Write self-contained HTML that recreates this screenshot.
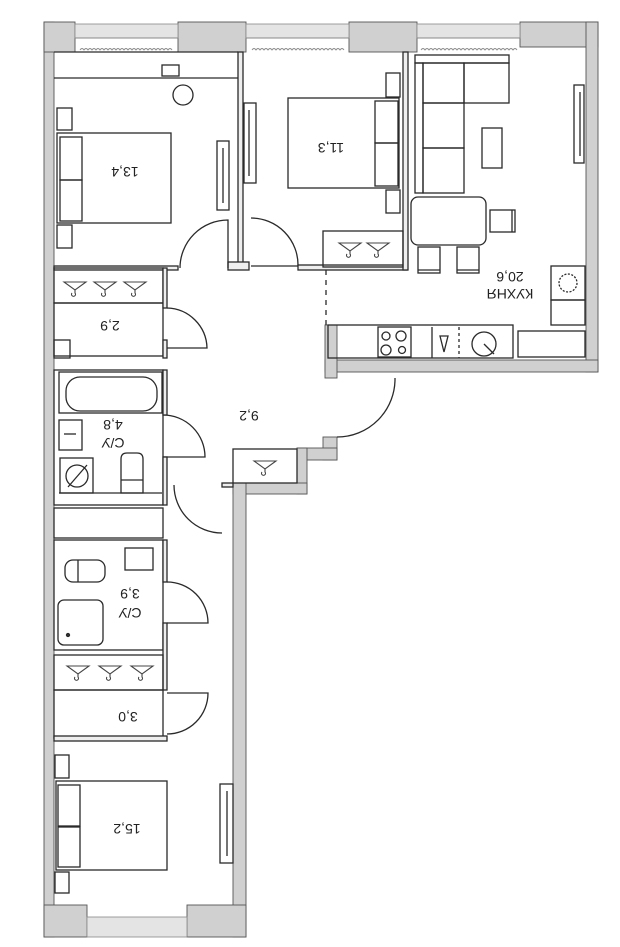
<!DOCTYPE html>
<html><head><meta charset="utf-8"><style>
html,body{margin:0;padding:0;background:#fff;}
svg{display:block}
text{font-family:"Liberation Sans",sans-serif;font-size:14px;fill:#222}
</style></head><body>
<svg width="620" height="947" viewBox="0 0 620 947" xmlns="http://www.w3.org/2000/svg">
<defs>
<g id="hg"><path d="M-11,-5 L11,-5 L0,3 Z" fill="none" stroke="#444" stroke-width="1.1"/><path d="M0,3 v3 a2,2 0 1,1 -3,0" fill="none" stroke="#444" stroke-width="1.1"/></g>
</defs>
<g stroke="#555" stroke-width="0.9" fill="#d0d0d0">
<rect x="44" y="22" width="10" height="915"/>
<rect x="44" y="22" width="31" height="30"/>
<rect x="178" y="22" width="68" height="30"/>
<rect x="349" y="22" width="68" height="30"/>
<rect x="520" y="22" width="78" height="25"/>
<rect x="586" y="22" width="12" height="350"/>
<rect x="325" y="360" width="273" height="12"/>
<rect x="325" y="325" width="12" height="53"/>
<rect x="323" y="437" width="14" height="23"/>
<rect x="297" y="448" width="40" height="12"/>
<rect x="297" y="448" width="10" height="46"/>
<rect x="233" y="483" width="74" height="11"/>
<rect x="233" y="483" width="13" height="454"/>
<rect x="44" y="905" width="43" height="32"/>
<rect x="187" y="905" width="59" height="32"/>
</g>
<g fill="#e4e4e4" stroke="#888" stroke-width="0.8">
<rect x="75" y="24" width="103" height="14"/>
<rect x="246" y="24" width="103" height="14"/>
<rect x="417" y="24" width="103" height="14"/>
<rect x="87" y="917" width="100" height="20"/>
</g>
<g stroke="#888" stroke-width="0.9" fill="none">
<line x1="75" y1="38" x2="178" y2="38"/><line x1="246" y1="38" x2="349" y2="38"/><line x1="417" y1="38" x2="520" y2="38"/>
<path d="M80,50 q2,-3 4,0 q2,-3 4,0 q2,-3 4,0 q2,-3 4,0 q2,-3 4,0 q2,-3 4,0 q2,-3 4,0 q2,-3 4,0 q2,-3 4,0 q2,-3 4,0 q2,-3 4,0 q2,-3 4,0 q2,-3 4,0 q2,-3 4,0 q2,-3 4,0 q2,-3 4,0 q2,-3 4,0 q2,-3 4,0 q2,-3 4,0 q2,-3 4,0 q2,-3 4,0 q2,-3 4,0 q2,-3 4,0"/>
<path d="M252,50 q2,-3 4,0 q2,-3 4,0 q2,-3 4,0 q2,-3 4,0 q2,-3 4,0 q2,-3 4,0 q2,-3 4,0 q2,-3 4,0 q2,-3 4,0 q2,-3 4,0 q2,-3 4,0 q2,-3 4,0 q2,-3 4,0 q2,-3 4,0 q2,-3 4,0 q2,-3 4,0 q2,-3 4,0 q2,-3 4,0 q2,-3 4,0 q2,-3 4,0 q2,-3 4,0 q2,-3 4,0 q2,-3 4,0"/>
<path d="M421,50 q2,-3 4,0 q2,-3 4,0 q2,-3 4,0 q2,-3 4,0 q2,-3 4,0 q2,-3 4,0 q2,-3 4,0 q2,-3 4,0 q2,-3 4,0 q2,-3 4,0 q2,-3 4,0 q2,-3 4,0 q2,-3 4,0 q2,-3 4,0 q2,-3 4,0 q2,-3 4,0 q2,-3 4,0 q2,-3 4,0 q2,-3 4,0 q2,-3 4,0 q2,-3 4,0 q2,-3 4,0 q2,-3 4,0 q2,-3 4,0"/>
</g>
<g stroke="#2a2a2a" stroke-width="1.3" fill="none">
<line x1="54" y1="52" x2="238" y2="52"/>
<line x1="54" y1="78" x2="238" y2="78"/>
<rect x="162" y="65" width="17" height="11"/>
<circle cx="183" cy="95" r="10"/>
<rect x="57" y="108" width="15" height="22"/><rect x="57" y="225" width="15" height="23"/>
<rect x="57" y="133" width="114" height="90"/>
<rect x="60" y="137" width="22" height="43"/><rect x="60" y="180" width="22" height="41"/>
<rect x="217" y="141" width="12" height="69"/><line x1="223" y1="148" x2="223" y2="203"/>
<rect x="238" y="52" width="5" height="216" fill="#eee"/>
<rect x="54" y="266" width="124" height="4" fill="#eee"/>
<rect x="228" y="262" width="21" height="8" fill="#eee"/>
<path d="M180,268 A48,48 0 0 1 228,220 L228,268"/>
<rect x="244" y="103" width="12" height="80"/><line x1="249" y1="110" x2="249" y2="176"/>
<rect x="288" y="98" width="111" height="90"/>
<rect x="375" y="101" width="23" height="42"/><rect x="375" y="143" width="23" height="43"/>
<rect x="386" y="73" width="14" height="24"/><rect x="386" y="190" width="14" height="23"/>
<path d="M251,218 A47,47 0 0 1 298,266 L251,266"/>
<rect x="298" y="265" width="109" height="5" fill="#eee"/>
<rect x="403" y="52" width="5" height="218" fill="#eee"/>
<rect x="323" y="231" width="80" height="36"/>
<rect x="415" y="55" width="94" height="8"/>
<rect x="415" y="63" width="8" height="130"/>
<rect x="423" y="63" width="41" height="40"/><rect x="423" y="103" width="41" height="45"/><rect x="423" y="148" width="41" height="45"/>
<rect x="464" y="63" width="45" height="40"/>
<rect x="482" y="128" width="20" height="40"/>
<rect x="574" y="85" width="10" height="78"/><line x1="580" y1="92" x2="580" y2="156"/>
<rect x="411" y="197" width="75" height="48" rx="7"/>
<rect x="490" y="210" width="25" height="22"/><line x1="512" y1="210" x2="512" y2="232"/>
<rect x="418" y="247" width="22" height="26"/><line x1="418" y1="270" x2="440" y2="270"/>
<rect x="457" y="247" width="22" height="26"/><line x1="457" y1="270" x2="479" y2="270"/>
<rect x="551" y="266" width="34" height="34"/><rect x="551" y="300" width="34" height="25"/>
<circle cx="568" cy="283" r="9" stroke-dasharray="2 1.5"/>
<line x1="326" y1="270" x2="326" y2="325" stroke-dasharray="5 5"/>
<rect x="328" y="325" width="185" height="33"/>
<rect x="378" y="327" width="33" height="30"/>
<circle cx="386" cy="336" r="4"/><circle cx="401" cy="336" r="5"/><circle cx="386" cy="350" r="5"/><circle cx="402" cy="350" r="3.5"/>
<line x1="432" y1="327" x2="432" y2="358"/><line x1="459" y1="327" x2="459" y2="358" stroke-dasharray="3 3"/>
<path d="M440,336 L448,336 L444,352 Z"/>
<circle cx="484" cy="344" r="12"/><line x1="484" y1="344" x2="494" y2="354"/>
<rect x="518" y="331" width="67" height="26"/>
<path d="M395,378 A58,58 0 0 1 337,437"/>
<path d="M163,415 A42,42 0 0 1 205,457 L163,457"/>
<path d="M222,533 A48,48 0 0 1 174,485"/>
<rect x="222" y="483" width="11" height="4" fill="#eee"/>
<rect x="233" y="449" width="64" height="34"/>
<rect x="54" y="268" width="109" height="35"/>
<rect x="54" y="303" width="109" height="53"/>
<rect x="163" y="268" width="4" height="40" fill="#eee"/>
<rect x="163" y="340" width="4" height="18" fill="#eee"/>
<path d="M167,308 A41,41 0 0 1 207,348 L167,348"/>
<rect x="54" y="340" width="16" height="18"/>
<rect x="54" y="370" width="109" height="135"/>
<rect x="59" y="372" width="103" height="41"/>
<rect x="66" y="377" width="91" height="34" rx="14"/>
<rect x="59" y="420" width="23" height="30"/><line x1="64" y1="434" x2="76" y2="434"/>
<rect x="60" y="458" width="33" height="35"/><circle cx="77" cy="476" r="11"/><line x1="68" y1="487" x2="87" y2="465"/>
<path d="M121,493 L121,459 Q121,453 127,453 L137,453 Q143,453 143,459 L143,493 Z"/><line x1="121" y1="480" x2="143" y2="480"/>
<line x1="59" y1="493" x2="162" y2="493"/>
<rect x="163" y="370" width="4" height="45" fill="#eee"/>
<rect x="163" y="457" width="4" height="48" fill="#eee"/>
<rect x="54" y="508" width="109" height="30"/>
<rect x="54" y="540" width="109" height="110"/>
<rect x="65" y="560" width="40" height="22" rx="8"/><line x1="78" y1="560" x2="78" y2="582"/>
<rect x="125" y="548" width="28" height="22"/>
<rect x="58" y="600" width="45" height="45" rx="6"/><circle cx="68" cy="635" r="1.5" fill="#333"/>
<rect x="163" y="540" width="4" height="42" fill="#eee"/>
<rect x="163" y="623" width="4" height="67" fill="#eee"/>
<path d="M167,582 A41,41 0 0 1 208,623 L167,623"/>
<rect x="54" y="655" width="109" height="35"/>
<rect x="54" y="690" width="109" height="48"/>
<rect x="54" y="736" width="113" height="5" fill="#eee"/>
<path d="M167,693 L208,693 A41,41 0 0 1 167,734"/>
<rect x="55" y="755" width="14" height="23"/><rect x="55" y="872" width="14" height="21"/>
<rect x="56" y="781" width="111" height="89"/>
<rect x="58" y="785" width="22" height="41"/><rect x="58" y="827" width="22" height="40"/>
<rect x="220" y="784" width="13" height="79"/><line x1="227" y1="791" x2="227" y2="856"/>
</g>
<g>
<use href="#hg" x="75" y="287"/>
<use href="#hg" x="105" y="287"/>
<use href="#hg" x="135" y="287"/>
<use href="#hg" x="350" y="248"/>
<use href="#hg" x="378" y="248"/>
<use href="#hg" x="265" y="466"/>
<use href="#hg" x="78" y="671"/>
<use href="#hg" x="110" y="671"/>
<use href="#hg" x="142" y="671"/>
</g>
<g>
<text transform="rotate(180 125 172)" x="125" y="177" text-anchor="middle">13,4</text>
<text transform="rotate(180 331 148)" x="331" y="153" text-anchor="middle">11,3</text>
<text transform="rotate(180 510 277)" x="510" y="282" text-anchor="middle">20,6</text>
<text transform="rotate(180 510 294)" x="510" y="299" text-anchor="middle">КУХНЯ</text>
<text transform="rotate(180 110 326)" x="110" y="331" text-anchor="middle">2,9</text>
<text transform="rotate(180 249 416)" x="249" y="421" text-anchor="middle">9,2</text>
<text transform="rotate(180 113 425)" x="113" y="430" text-anchor="middle">4,8</text>
<text transform="rotate(180 113 443)" x="113" y="448" text-anchor="middle">С/У</text>
<text transform="rotate(180 130 594)" x="130" y="599" text-anchor="middle">3,9</text>
<text transform="rotate(180 130 613)" x="130" y="618" text-anchor="middle">С/У</text>
<text transform="rotate(180 128 717)" x="128" y="722" text-anchor="middle">3,0</text>
<text transform="rotate(180 127 829)" x="127" y="834" text-anchor="middle">15,2</text>
</g>
</svg>
</body></html>
